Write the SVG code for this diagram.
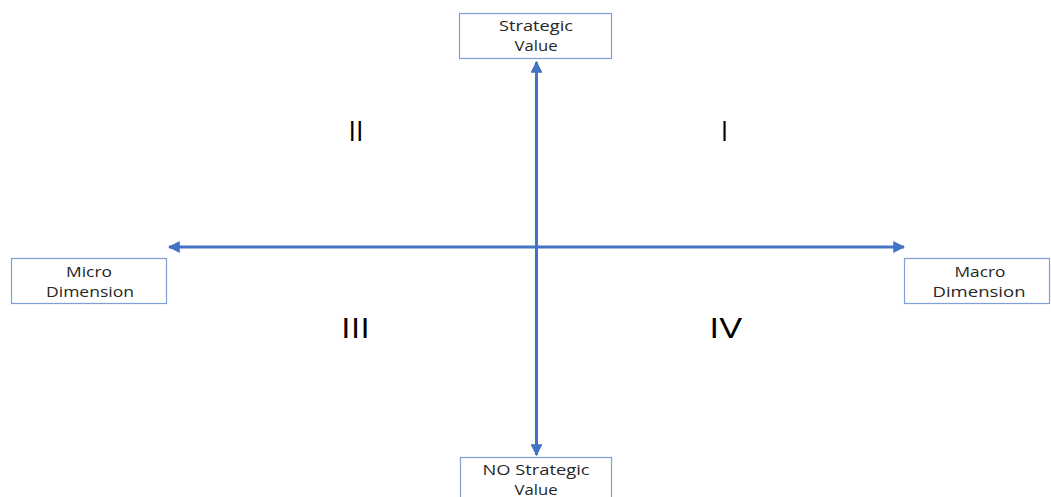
<svg xmlns="http://www.w3.org/2000/svg" width="1051" height="497" viewBox="0 0 1051 497">
<style>
.box{fill:#fff;stroke:#7f9fd8;stroke-width:1.2}
.lbl{font-family:"Open Sans","Liberation Sans",sans-serif;font-size:15px;fill:#262626;text-anchor:middle}
.num{font-family:"Open Sans","Liberation Sans",sans-serif;font-size:28px;fill:#000;text-anchor:middle}
.ax{stroke:#4472c4;stroke-width:3;fill:none}
</style>
<defs>
<marker id="ah" viewBox="0 0 10 10" refX="9" refY="5" markerWidth="4" markerHeight="4" orient="auto" markerUnits="strokeWidth">
<path d="M0,0 L10,5 L0,10 z" fill="#4472c4"/>
</marker>
</defs>
<rect width="1051" height="497" fill="#fff"/>
<g id="connectors">
<line class="ax" x1="536.5" y1="247" x2="536.5" y2="62" marker-end="url(#ah)"/>
<line class="ax" x1="536.5" y1="247" x2="536.5" y2="455" marker-end="url(#ah)"/>
<line class="ax" x1="536.5" y1="247" x2="169" y2="247" marker-end="url(#ah)"/>
<line class="ax" x1="536.5" y1="247" x2="904" y2="247" marker-end="url(#ah)"/>
</g>
<g id="top">
<rect class="box" x="459.5" y="13.5" width="152" height="45"/>
<text class="lbl" x="536" y="31" textLength="74" lengthAdjust="spacingAndGlyphs">Strategic</text>
<text class="lbl" x="536" y="51" textLength="43" lengthAdjust="spacingAndGlyphs">Value</text>
</g>
<g id="bottom">
<rect class="box" x="460.5" y="457.5" width="151" height="45"/>
<text class="lbl" x="536" y="475" textLength="107" lengthAdjust="spacingAndGlyphs">NO Strategic</text>
<text class="lbl" x="536" y="495" textLength="43" lengthAdjust="spacingAndGlyphs">Value</text>
</g>
<g id="left">
<rect class="box" x="11.5" y="258.5" width="155" height="45"/>
<text class="lbl" x="89" y="277" textLength="46" lengthAdjust="spacingAndGlyphs">Micro</text>
<text class="lbl" x="90" y="297" textLength="88" lengthAdjust="spacingAndGlyphs">Dimension</text>
</g>
<g id="right">
<rect class="box" x="904.5" y="258.5" width="145" height="45"/>
<text class="lbl" x="980" y="277" textLength="51" lengthAdjust="spacingAndGlyphs">Macro</text>
<text class="lbl" x="979" y="297" textLength="93" lengthAdjust="spacingAndGlyphs">Dimension</text>
</g>
<g id="quadrants">
<text class="num" x="356" y="141" textLength="15" lengthAdjust="spacingAndGlyphs">II</text>
<text class="num" x="724.5" y="141" textLength="7" lengthAdjust="spacingAndGlyphs">I</text>
<text class="num" x="355.5" y="338" textLength="29" lengthAdjust="spacingAndGlyphs">III</text>
<text class="num" x="725.5" y="338" textLength="33" lengthAdjust="spacingAndGlyphs">IV</text>
</g>
</svg>
